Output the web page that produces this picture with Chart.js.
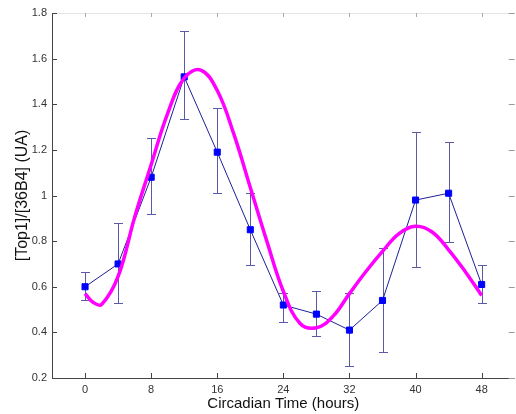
<!DOCTYPE html>
<html><head><meta charset="utf-8">
<script src="https://cdn.jsdelivr.net/npm/chart.js@4"></script>
<style>html,body{margin:0;padding:0;overflow:hidden;background:#fff}#wrap{width:520px;height:414px}</style>
</head><body><div id="wrap"><canvas id="c" width="520" height="414"></canvas></div>
<script>
const times = [0, 4, 8, 12, 16, 20, 24, 28, 32, 36, 40, 44, 48];
const means = [0.60, 0.70, 1.08, 1.52, 1.19, 0.85, 0.52, 0.48, 0.41, 0.54, 0.98, 1.01, 0.61];
const errHigh = [0.665, 0.878, 1.25, 1.72, 1.384, 1.01, 0.573, 0.58, 0.573, 0.77, 1.28, 1.235, 0.694];
const errLow = [0.543, 0.527, 0.92, 1.337, 1.009, 0.697, 0.447, 0.385, 0.254, 0.312, 0.687, 0.795, 0.529];
const fitTimes = [0, 1, 2, 4, 6, 8, 10, 12, 14, 16, 18, 20, 22, 24, 26, 28, 30, 32, 34, 36, 38, 40, 42, 44, 46, 48];
const fitValues = [0.57, 0.531, 0.522, 0.645, 0.905, 1.135, 1.36, 1.515, 1.55, 1.46, 1.27, 1.035, 0.80, 0.58, 0.44, 0.42, 0.47, 0.57, 0.667, 0.755, 0.833, 0.865, 0.84, 0.762, 0.667, 0.562];
const xTicks = [0, 8, 16, 24, 32, 40, 48];
const yTicks = [0.2, 0.4, 0.6, 0.8, 1.0, 1.2, 1.4, 1.6, 1.8];
const yTickLabels = ['0.2', '0.4', '0.6', '0.8', '1', '1.2', '1.4', '1.6', '1.8'];
const xLabel = 'Circadian Time (hours)';
const yLabel = '[Top1]/[36B4] (UA)';

const FONT = '"Liberation Sans", Arial, sans-serif';

const framePlugin = {
  id: 'frame',
  beforeDatasetsDraw(chart) {
    const {ctx, chartArea: a, scales: {x, y}} = chart;
    ctx.save();
    ctx.lineWidth = 1;
    ctx.strokeStyle = '#e4e4e4';
    ctx.beginPath(); ctx.moveTo(a.left, a.top + 0.5); ctx.lineTo(a.right, a.top + 0.5); ctx.stroke();
    ctx.strokeStyle = '#444';
    ctx.beginPath();
    ctx.moveTo(a.left + 0.5, a.top); ctx.lineTo(a.left + 0.5, a.bottom + 0.5);
    ctx.lineTo(a.right, a.bottom + 0.5);
    ctx.stroke();
    xTicks.forEach(v => {
      const px = Math.round(x.getPixelForValue(v)) + 0.5;
      ctx.strokeStyle = '#444';
      ctx.beginPath(); ctx.moveTo(px, a.bottom); ctx.lineTo(px, a.bottom - 5); ctx.stroke();
      ctx.strokeStyle = '#aaa';
      ctx.beginPath(); ctx.moveTo(px, a.top); ctx.lineTo(px, a.top + 4); ctx.stroke();
    });
    yTicks.forEach(v => {
      const py = Math.round(y.getPixelForValue(v)) + 0.5;
      ctx.strokeStyle = '#444';
      ctx.beginPath(); ctx.moveTo(a.left, py); ctx.lineTo(a.left + 5, py); ctx.stroke();
      ctx.strokeStyle = '#999';
      ctx.beginPath(); ctx.moveTo(a.right, py); ctx.lineTo(a.right - 6, py); ctx.stroke();
    });
    ctx.strokeStyle = '#5a5aa8';
    times.forEach((t, i) => {
      const px = Math.round(x.getPixelForValue(t)) + 0.5;
      const yh = Math.round(y.getPixelForValue(errHigh[i])) + 0.5;
      const yl = Math.round(y.getPixelForValue(errLow[i])) + 0.5;
      ctx.beginPath();
      ctx.moveTo(px, yh); ctx.lineTo(px, yl);
      ctx.moveTo(px - 4.5, yh); ctx.lineTo(px + 4.5, yh);
      ctx.moveTo(px - 4.5, yl); ctx.lineTo(px + 4.5, yl);
      ctx.stroke();
    });
    ctx.restore();
  }
};

new Chart(document.getElementById('c'), {
  type: 'scatter',
  data: {
    datasets: [
      {
        label: 'fit',
        data: fitTimes.map((t, i) => ({x: t, y: fitValues[i]})),
        showLine: true,
        borderColor: '#ff00ff',
        borderWidth: 3.5,
        pointRadius: 0,
        tension: 0.4,
        fill: false
      },
      {
        label: 'mean',
        data: times.map((t, i) => ({x: t, y: means[i]})),
        showLine: true,
        borderColor: '#1e1e96',
        borderWidth: 1,
        pointStyle: 'rect',
        pointRadius: 4.3,
        pointBackgroundColor: '#0000ff',
        pointBorderColor: '#0000ff',
        pointBorderWidth: 1,
        tension: 0
      }
    ]
  },
  options: {
    responsive: false,
    animation: false,
    layout: {padding: {top: 13, right: 2.4, left: 0, bottom: 0}},
    plugins: {legend: {display: false}, tooltip: {enabled: false}},
    scales: {
      x: {
        type: 'linear', min: -4, max: 52,
        afterBuildTicks: s => { s.ticks = xTicks.map(v => ({value: v})); },
        grid: {display: false, drawTicks: false},
        border: {display: false},
        ticks: {font: {family: FONT, size: 11}, color: '#333', padding: 5, autoSkip: false, maxRotation: 0,
          callback: v => String(v)},
        title: {display: true, text: xLabel, font: {family: FONT, size: 15}, color: '#111', padding: {top: 0, bottom: 1}},
        afterFit: s => { s.height = 36; }
      },
      y: {
        type: 'linear', min: 0.2, max: 1.8,
        afterBuildTicks: s => { s.ticks = yTicks.map(v => ({value: v})); },
        grid: {display: false, drawTicks: false},
        border: {display: false},
        ticks: {font: {family: FONT, size: 11}, color: '#333', padding: 5, autoSkip: false,
          callback: v => { const i = yTicks.findIndex(t => Math.abs(t - v) < 1e-6); return i >= 0 ? yTickLabels[i] : ''; }},
        title: {display: true, text: yLabel, font: {family: FONT, size: 16}, color: '#111', padding: {top: 12.5, bottom: 0}},
        afterFit: s => { s.width = 52; }
      }
    }
  },
  plugins: [framePlugin]
});
</script>
</body></html>
